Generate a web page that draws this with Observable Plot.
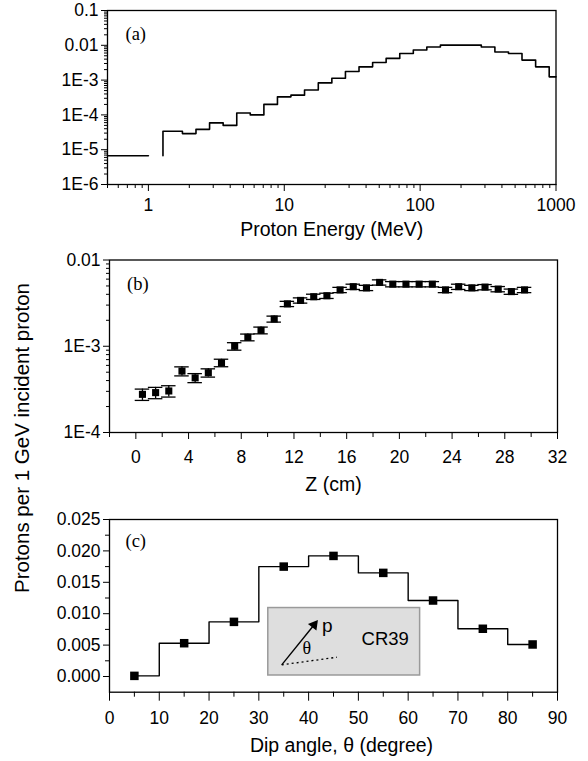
<!DOCTYPE html>
<html><head><meta charset="utf-8">
<script src="https://cdn.jsdelivr.net/npm/d3@7"></script>
<script src="https://cdn.jsdelivr.net/npm/@observablehq/plot@0.6"></script>
<style>
html,body{margin:0;padding:0;background:#fff;}
#wrap{position:relative;width:588px;height:761px;overflow:hidden;font-family:"Liberation Sans",Arial,sans-serif;color:#000;}
.panel{position:absolute;left:0;}
#ylab{position:absolute;left:22px;top:438px;transform:translate(-50%,-50%) rotate(-90deg);font-size:20.5px;white-space:nowrap;}
</style></head><body>
<div id="wrap">
 <div class="panel" id="pa" style="top:0"></div>
 <div class="panel" id="pb" style="top:240px"></div>
 <div class="panel" id="pc" style="top:500px"></div>
 <div id="ylab">Protons per 1 GeV incident proton</div>
</div>
<script>
// ---------- Panel (a): proton energy spectrum ----------
const energyLowEdges = [0.5, 1.0];
const energyLowValue = 6.7e-6;
const energyEdges = [1.28, 1.78, 2.24, 2.82, 3.55, 4.47, 5.62, 7.08, 8.91, 11.2, 14.1, 17.8, 22.4, 28.2, 35.5,
  44.7, 56.2, 70.8, 89.1, 112, 141, 178, 224, 282, 355, 447, 562, 708, 891, 1000];
const energyValues = [3.4e-5, 2.9e-5, 3.85e-5, 5.9e-5, 5.0e-5, 1.13e-4, 1.0e-4, 2.0e-4, 3.3e-4, 3.7e-4,
  5.2e-4, 8.3e-4, 1.13e-3, 1.76e-3, 2.4e-3, 3.2e-3, 4.2e-3, 5.8e-3, 7.3e-3, 8.9e-3,
  1.01e-2, 1.01e-2, 1.01e-2, 8.9e-3, 6.4e-3, 5.8e-3, 3.75e-3, 2.4e-3, 1.24e-3];
const energyTicks = [1, 10, 100, 1000];
const energyTickLabels = ["1", "10", "100", "1000"];
const fluxTicks = [1e-6, 1e-5, 1e-4, 1e-3, 1e-2, 1e-1];
const fluxTickLabels = ["1E-6", "1E-5", "1E-4", "1E-3", "0.01", "0.1"];

// ---------- Panel (b): yield vs depth ----------
const depthZ = [0.5, 1.5, 2.5, 3.5, 4.5, 5.5, 6.5, 7.5, 8.5, 9.5, 10.5, 11.5, 12.5, 13.5, 14.5,
  15.5, 16.5, 17.5, 18.5, 19.5, 20.5, 21.5, 22.5, 23.5, 24.5, 25.5, 26.5, 27.5, 28.5, 29.5];
const depthYield = [2.77e-4, 2.9e-4, 3.03e-4, 5.15e-4, 4.3e-4, 4.93e-4, 6.43e-4, 1.0e-3, 1.27e-3, 1.53e-3,
  2.07e-3, 3.1e-3, 3.4e-3, 3.75e-3, 3.85e-3, 4.5e-3, 4.9e-3, 4.75e-3, 5.5e-3, 5.25e-3,
  5.25e-3, 5.25e-3, 5.25e-3, 4.5e-3, 4.9e-3, 4.75e-3, 4.85e-3, 4.6e-3, 4.3e-3, 4.5e-3];
const depthRelErr = [0.15, 0.15, 0.15, 0.12, 0.12, 0.11, 0.1, 0.1, 0.09, 0.09,
  0.08, 0.07, 0.07, 0.07, 0.07, 0.07, 0.07, 0.07, 0.07, 0.07,
  0.07, 0.07, 0.07, 0.07, 0.07, 0.07, 0.07, 0.07, 0.07, 0.07];
const depthTicks = [0, 4, 8, 12, 16, 20, 24, 28, 32];
const depthTickLabels = ["0", "4", "8", "12", "16", "20", "24", "28", "32"];
const yieldTicks = [1e-4, 1e-3, 1e-2];
const yieldTickLabels = ["1E-4", "1E-3", "0.01"];

// ---------- Panel (c): dip angle distribution ----------
const dipAngle = [5, 15, 25, 35, 45, 55, 65, 75, 85];
const dipYield = [0.0001, 0.0053, 0.0087, 0.0175, 0.0192, 0.0165, 0.0121, 0.0076, 0.0051];
const dipTicks = [0, 10, 20, 30, 40, 50, 60, 70, 80, 90];
const dipTickLabels = ["0", "10", "20", "30", "40", "50", "60", "70", "80", "90"];
const dipYTicks = [0, 0.005, 0.01, 0.015, 0.02, 0.025];
const dipYTickLabels = ["0.000", "0.005", "0.010", "0.015", "0.020", "0.025"];

// ---------- helpers ----------
const FONT = "Liberation Sans, Arial, sans-serif";
const SERIF = "Liberation Serif, Times New Roman, serif";
const TICKFS = 17.5, TITLEFS = 19.5;
const labelMap = (ticks, labels) => { const m = new Map(ticks.map((t, i) => [t, labels[i]])); return d => m.get(d); };
function logMinor(lo, hi) {
  const out = [];
  for (let e = Math.floor(Math.log10(lo)); e < Math.ceil(Math.log10(hi)); e++) {
    for (let k = 2; k <= 9; k++) { const v = k * Math.pow(10, e); if (v >= lo * 0.999 && v <= hi * 1.001) out.push(v); }
  }
  return out;
}
const blank = () => "";
const baseStyle = {fontFamily: FONT, fontSize: "16px", color: "#000", background: "transparent", overflow: "visible"};

// ---------- (a) ----------
const aLine = [];
energyLowEdges.forEach(e => aLine.push({E: e, v: energyLowValue, seg: 0}));
aLine.push({E: energyEdges[0], v: energyLowValue, seg: 1});
energyValues.forEach((v, i) => aLine.push({E: energyEdges[i], v, seg: 1}));
aLine.push({E: energyEdges[energyEdges.length - 1], v: energyValues[energyValues.length - 1], seg: 1});

const plotA = Plot.plot({
  width: 588, height: 240, marginTop: 10, marginBottom: 56, marginLeft: 107, marginRight: 32.5,
  style: baseStyle,
  x: {type: "log", domain: [0.5, 1000]},
  y: {type: "log", domain: [1e-6, 0.1]},
  marks: [
    Plot.line(aLine, {x: "E", y: "v", z: "seg", curve: "step-after", stroke: "#000", strokeWidth: 1.6}),
    Plot.frame({stroke: "#000", strokeWidth: 1.3}),
    Plot.axisX({ticks: energyTicks, tickFormat: labelMap(energyTicks, energyTickLabels), tickSize: 7, tickPadding: 7, fontSize: TICKFS, label: null}),
    Plot.axisX({ticks: logMinor(0.5, 1000), tickFormat: blank, tickSize: 4, label: null}),
    Plot.axisY({ticks: fluxTicks, tickFormat: labelMap(fluxTicks, fluxTickLabels), tickSize: 6, tickPadding: 3, fontSize: TICKFS, label: null}),
    Plot.axisY({ticks: logMinor(1e-6, 0.1), tickFormat: blank, tickSize: 3, label: null}),
    Plot.text(["(a)"], {frameAnchor: "top-left", dx: 18, dy: 16, lineAnchor: "top", textAnchor: "start", fontFamily: SERIF, fontSize: 18.5}),
    Plot.text(["Proton Energy (MeV)"], {frameAnchor: "bottom", dy: 45, lineAnchor: "middle", fontSize: TITLEFS})
  ]
});
document.getElementById("pa").appendChild(plotA);

// ---------- (b) ----------
const bData = depthZ.map((z, i) => ({
  z, v: depthYield[i],
  lo: depthYield[i] * (1 - depthRelErr[i]), hi: depthYield[i] * (1 + depthRelErr[i]),
  zl: z - 0.55, zr: z + 0.55
}));
const plotB = Plot.plot({
  width: 588, height: 260, marginTop: 19.5, marginBottom: 68, marginLeft: 109, marginRight: 31,
  style: baseStyle,
  x: {domain: [-2, 32]},
  y: {type: "log", domain: [1e-4, 1e-2]},
  marks: [
    Plot.ruleX(bData, {x: "z", y1: "lo", y2: "hi", stroke: "#000", strokeWidth: 1.3}),
    Plot.ruleY(bData, {y: "lo", x1: "zl", x2: "zr", stroke: "#000", strokeWidth: 1.3}),
    Plot.ruleY(bData, {y: "hi", x1: "zl", x2: "zr", stroke: "#000", strokeWidth: 1.3}),
    Plot.dot(bData, {x: "z", y: "v", symbol: "square", r: 4, fill: "#000", stroke: "none"}),
    Plot.frame({stroke: "#000", strokeWidth: 1.3}),
    Plot.axisX({ticks: depthTicks, tickFormat: labelMap(depthTicks, depthTickLabels), tickSize: 7, tickPadding: 11, fontSize: TICKFS, label: null}),
    Plot.axisX({ticks: [-2, 2, 6, 10, 14, 18, 22, 26, 30], tickFormat: blank, tickSize: 5, label: null}),
    Plot.axisY({ticks: yieldTicks, tickFormat: labelMap(yieldTicks, yieldTickLabels), tickSize: 6, tickPadding: 3, fontSize: TICKFS, label: null}),
    Plot.axisY({ticks: logMinor(1e-4, 1e-2), tickFormat: blank, tickSize: 3, label: null}),
    Plot.text(["(b)"], {frameAnchor: "top-left", dx: 17.5, dy: 17, lineAnchor: "top", textAnchor: "start", fontFamily: SERIF, fontSize: 18.5}),
    Plot.text(["Z (cm)"], {frameAnchor: "bottom", dy: 52, lineAnchor: "middle", fontSize: TITLEFS})
  ]
});
document.getElementById("pb").appendChild(plotB);

// ---------- (c) ----------
const cData = dipAngle.map((a, i) => ({a, v: dipYield[i]}));
const inset = {x1: 31.9, x2: 62.4, y1: 0.00016, y2: 0.0109};
const arrowStart = {x: 34.6, y: 0.00186}, arrowTip = {x: 41.7, y: 0.00903}, dashEnd = {x: 45.7, y: 0.00307};
const plotC = Plot.plot({
  width: 588, height: 261, marginTop: 19, marginBottom: 69.3, marginLeft: 109, marginRight: 31,
  style: baseStyle,
  x: {domain: [0, 90]},
  y: {domain: [-0.0025, 0.025]},
  marks: [
    Plot.rect([inset], {x1: "x1", x2: "x2", y1: "y1", y2: "y2", fill: "#dedede", stroke: "#9a9a9a", strokeWidth: 1.5}),
    Plot.link([{}], {x1: arrowStart.x, y1: arrowStart.y, x2: arrowTip.x - 0.5, y2: arrowTip.y - 0.0007, stroke: "#000", strokeWidth: 1.4}),
    Plot.dot([{}], {x: arrowTip.x - 0.6, y: arrowTip.y - 0.0008, symbol: "triangle", r: 4, rotate: 38, fill: "#000", stroke: "none"}),
    Plot.link([{}], {x1: arrowStart.x, y1: arrowStart.y, x2: dashEnd.x, y2: dashEnd.y, stroke: "#000", strokeWidth: 1.3, strokeDasharray: "2,3"}),
    Plot.text(["p"], {x: 42.7, y: 0.0080, textAnchor: "start", fontSize: 19}),
    Plot.text(["θ"], {x: 39.65, y: 0.0045, fontSize: 18, fontFamily: SERIF}),
    Plot.text(["CR39"], {x: 55.4, y: 0.0059, fontSize: 18.5}),
    Plot.line(cData, {x: "a", y: "v", curve: "step", stroke: "#000", strokeWidth: 1.4}),
    Plot.dot(cData, {x: "a", y: "v", symbol: "square", r: 4.8, fill: "#000", stroke: "none"}),
    Plot.frame({stroke: "#000", strokeWidth: 1.3}),
    Plot.axisX({ticks: dipTicks, tickFormat: labelMap(dipTicks, dipTickLabels), tickSize: 9, tickPadding: 10, fontSize: TICKFS, label: null}),
    Plot.axisX({ticks: [5, 15, 25, 35, 45, 55, 65, 75, 85], tickFormat: blank, tickSize: 5, label: null}),
    Plot.axisY({ticks: dipYTicks, tickFormat: labelMap(dipYTicks, dipYTickLabels), tickSize: 6, tickPadding: 3, fontSize: TICKFS, label: null}),
    Plot.axisY({ticks: [0.0025, 0.0075, 0.0125, 0.0175, 0.0225], tickFormat: blank, tickSize: 4, label: null}),
    Plot.text(["(c)"], {frameAnchor: "top-left", dx: 16, dy: 14, lineAnchor: "top", textAnchor: "start", fontFamily: SERIF, fontSize: 18.5}),
    Plot.text(["Dip angle, θ (degree)"], {frameAnchor: "bottom", dx: 8, dy: 54, lineAnchor: "middle", fontSize: TITLEFS})
  ]
});
document.getElementById("pc").appendChild(plotC);
</script>
</body></html>
